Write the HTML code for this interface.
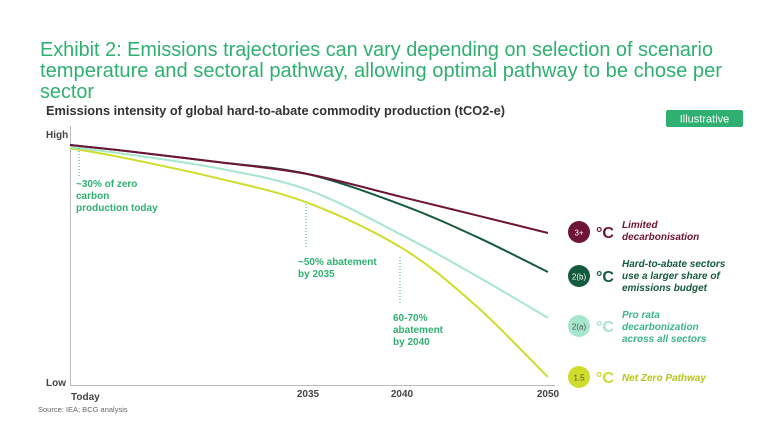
<!DOCTYPE html>
<html><head><meta charset="utf-8"><style>
body{margin:0;background:#fff;}
svg{display:block;font-family:"Liberation Sans",sans-serif;}
</style></head><body>
<svg id="chart" width="768" height="432" viewBox="0 0 768 432">
<g fill="#2fb070" font-size="20" font-family="'Liberation Sans Narrow','Liberation Sans',sans-serif">
<text x="40" y="56" textLength="673" lengthAdjust="spacingAndGlyphs">Exhibit 2: Emissions trajectories can vary depending on selection of scenario</text>
<text x="40" y="77" textLength="682" lengthAdjust="spacingAndGlyphs">temperature and sectoral pathway, allowing optimal pathway to be chose per</text>
<text x="40" y="98" textLength="54" lengthAdjust="spacingAndGlyphs">sector</text>
</g>
<text x="46" y="115" font-size="13" font-weight="bold" fill="#333" textLength="459" lengthAdjust="spacingAndGlyphs">Emissions intensity of global hard-to-abate commodity production (tCO2-e)</text>
<g>
<rect x="666" y="110" width="77" height="17" rx="2" fill="#2fb070"/>
<text x="704.5" y="122.5" font-size="11" fill="#fff" text-anchor="middle">Illustrative</text>
</g>
<g stroke="#bbb" stroke-width="1">
<line x1="70.5" y1="126" x2="70.5" y2="385"/>
<line x1="70" y1="385.5" x2="555" y2="385.5"/>
</g>
<text x="46" y="138" font-size="10" font-weight="bold" fill="#444">High</text>
<text x="46" y="386" font-size="10" font-weight="bold" fill="#444">Low</text>
<g id="xticks" font-size="10" font-weight="bold" fill="#444"></g>
<g id="series"></g>
<g font-size="10" font-weight="bold" fill="#2fb070">
<line x1="79" y1="148" x2="79" y2="178" stroke="#2fb070" stroke-dasharray="1,2"/>
<text x="76" y="187">~30% of zero</text><text x="76" y="199">carbon</text><text x="76" y="211">production today</text>
<line x1="306" y1="204" x2="306" y2="247" stroke="#2fb070" stroke-dasharray="1,2"/>
<text x="298" y="265">~50% abatement</text><text x="298" y="277">by 2035</text>
<line x1="400" y1="257" x2="400" y2="305" stroke="#2fb070" stroke-dasharray="1,2"/>
<text x="393" y="321">60-70%</text><text x="393" y="333">abatement</text><text x="393" y="345">by  2040</text>
</g>
<g font-size="10" font-weight="bold" font-style="italic">
<g><circle cx="579" cy="232" r="11" fill="#6e1436"/><text x="579" y="235.5" font-size="8" font-weight="normal" font-style="normal" fill="#fff" text-anchor="middle">3+</text><text x="596" y="238" font-size="16" font-style="normal" fill="#6e1436">°C</text><text x="622" y="228" fill="#6e1436">Limited</text><text x="622" y="240" fill="#6e1436">decarbonisation</text></g>
<g><circle cx="579" cy="276" r="11" fill="#145a3c"/><text x="579" y="279.5" font-size="8" font-weight="normal" font-style="normal" fill="#fff" text-anchor="middle">2(b)</text><text x="596" y="282" font-size="16" font-style="normal" fill="#145a3c">°C</text><text x="622" y="267" fill="#145a3c">Hard-to-abate sectors</text><text x="622" y="279" fill="#145a3c">use a larger share of</text><text x="622" y="291" fill="#145a3c">emissions budget</text></g>
<g><circle cx="579" cy="326" r="11" fill="#a6e6cc"/><text x="579" y="329.5" font-size="8" font-weight="normal" font-style="normal" fill="#555" text-anchor="middle">2(a)</text><text x="596" y="332" font-size="16" font-style="normal" fill="#a6e6cc">°C</text><text x="622" y="318" fill="#3db38a">Pro rata</text><text x="622" y="330" fill="#3db38a">decarbonization</text><text x="622" y="342" fill="#3db38a">across all sectors</text></g>
<g><circle cx="579" cy="377" r="11" fill="#cfdc2a"/><text x="579" y="380.5" font-size="8" font-weight="normal" font-style="normal" fill="#555" text-anchor="middle">1.5</text><text x="596" y="383" font-size="16" font-style="normal" fill="#cfdc2a">°C</text><text x="622" y="381" fill="#b7c41c">Net Zero Pathway</text></g>
</g>
<text x="38" y="412" font-size="7.5" fill="#666">Source: IEA; BCG analysis</text>
</svg>
<script>
const years = [2022, 2025, 2030, 2035, 2040, 2045, 2050];
const limited = [94.1, 91.8, 87.5, 82.7, 73.7, 66.7, 59.6];
const hardToAbate = [94.1, 91.8, 87.5, 82.7, 70.6, 58.4, 44.3];
const proRata = [93.3, 90.6, 85.1, 76.5, 58.8, 43.1, 26.3];
const netZero = [92.9, 89.0, 81.2, 71.4, 53.7, 31.4, 3.1];
const tickYears = [2022, 2035, 2040, 2050];
const tickLabels = ["Today", "2035", "2040", "2050"];

const xDom = [2022, 2035, 2040, 2050], xRng = [70, 308, 402, 548];
function xs(yr){
  for(let i=0;i<xDom.length-1;i++){
    if(yr<=xDom[i+1]||i===xDom.length-2){
      return xRng[i]+(yr-xDom[i])/(xDom[i+1]-xDom[i])*(xRng[i+1]-xRng[i]);
    }
  }
}
function ys(v){ return 385 - v*2.55; }
const NS="http://www.w3.org/2000/svg";
const tg=document.getElementById('xticks');
tickYears.forEach((t,i)=>{
  const el=document.createElementNS(NS,'text');
  el.setAttribute('x', xs(t)+(i===0?1:0));
  el.setAttribute('y', i===0?400:397);
  el.setAttribute('text-anchor', i===0?'start':'middle');
  el.textContent=tickLabels[i];
  
  
  tg.appendChild(el);
});
function path(vals){
  const p=vals.map((v,i)=>[xs(years[i]),ys(v)]);
  let d=`M${p[0][0]},${p[0][1]}`;
  for(let i=0;i<p.length-1;i++){
    const p0=p[i-1]||p[i],p1=p[i],p2=p[i+1],p3=p[i+2]||p2;
    const c1=[p1[0]+(p2[0]-p0[0])/6,p1[1]+(p2[1]-p0[1])/6];
    const c2=[p2[0]-(p3[0]-p1[0])/6,p2[1]-(p3[1]-p1[1])/6];
    d+=` C${c1[0]},${c1[1]} ${c2[0]},${c2[1]} ${p2[0]},${p2[1]}`;
  }
  return d;
}
const sg=document.getElementById('series');
[[netZero,'#cfdc2a','line-net-zero'],[proRata,'#a6e6cc','line-pro-rata'],[hardToAbate,'#145a3c','line-hard-to-abate'],[limited,'#6e1436','line-limited']].forEach(([v,c,n])=>{
  const el=document.createElementNS(NS,'path');
  el.setAttribute('d',path(v));
  el.setAttribute('fill','none');
  el.setAttribute('stroke',c);
  el.setAttribute('stroke-width','2');
  
  
  sg.appendChild(el);
});
</script>
</body></html>
